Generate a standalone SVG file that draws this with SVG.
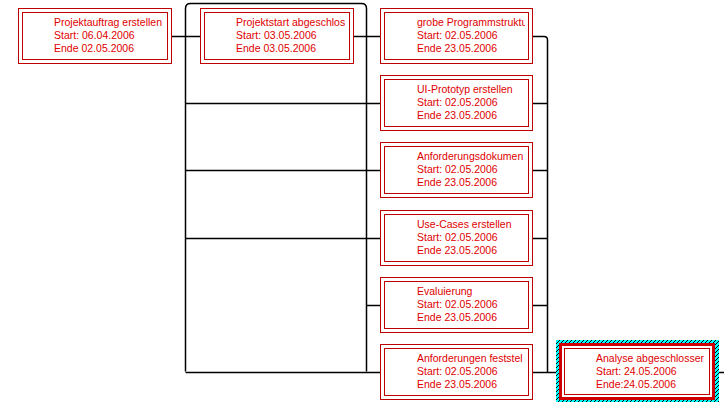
<svg xmlns="http://www.w3.org/2000/svg" width="724" height="411" viewBox="0 0 724 411">
<style>
.o{fill:#fff;stroke:#C00000;stroke-width:1}
.i{fill:none;stroke:#C00000;stroke-width:1}
.t{font-family:"Liberation Sans",Arial,sans-serif;font-size:10.5px;fill:#E00000}
.c{fill:none;stroke:#000;stroke-width:1.5}
</style>
<defs>
<pattern id="hatch" patternUnits="userSpaceOnUse" width="4" height="4">
<rect width="4" height="4" fill="#00FFFF"/>
<path d="M0,4 L4,0 M-1,1 L1,-1 M3,5 L5,3" stroke="#000" stroke-width="1"/>
</pattern>
<clipPath id="c1"><rect x="22" y="12" width="142" height="47"/></clipPath>
<clipPath id="c2"><rect x="204" y="12" width="141" height="47"/></clipPath>
<clipPath id="r1"><rect x="384" y="12" width="141" height="47"/></clipPath>
<clipPath id="r2"><rect x="384" y="79" width="141" height="47"/></clipPath>
<clipPath id="r3"><rect x="384" y="146" width="141" height="47"/></clipPath>
<clipPath id="r4"><rect x="384" y="214" width="141" height="47"/></clipPath>
<clipPath id="r5"><rect x="384" y="281" width="141" height="47"/></clipPath>
<clipPath id="r6"><rect x="384" y="348" width="141" height="47"/></clipPath>
<clipPath id="cf"><rect x="564" y="348" width="141" height="47"/></clipPath>
</defs>
<rect width="724" height="411" fill="#fff"/>
<g id="connectors">
<path class="c" d="M171,36.5 H200"/>
<path class="c" d="M185.5,371.5 V8.5 Q185.5,3.5 190.5,3.5 H361.5 Q366.5,3.5 366.5,8.5 V371.5"/>
<path class="c" d="M354,36.5 H380"/>
<path class="c" d="M185.5,103.5 H380"/>
<path class="c" d="M185.5,170.5 H380"/>
<path class="c" d="M185.5,238.5 H380"/>
<path class="c" d="M366.5,305.5 H380"/>
<path class="c" d="M185.5,372.5 H380"/>
<path class="c" d="M532,36.5 H544 Q547.5,36.5 547.5,40 V372.5"/>
<path class="c" d="M532,103.5 H547.5"/>
<path class="c" d="M532,170.5 H547.5"/>
<path class="c" d="M532,238.5 H547.5"/>
<path class="c" d="M532,305.5 H547.5"/>
<path class="c" d="M532,372.5 H556"/>
<path class="c" d="M715,372.5 H724"/>
</g>
<g id="n1">
<rect class="o" x="18.5" y="8.5" width="153" height="55"/>
<rect class="i" x="22.5" y="12.5" width="145" height="47"/>
<g clip-path="url(#c1)" class="t"><text x="54" y="26">Projektauftrag erstellen</text><text x="54" y="39">Start: 06.04.2006</text><text x="54" y="52">Ende 02.05.2006</text></g>
</g>
<g id="n2">
<rect class="o" x="200.5" y="8.5" width="153" height="55"/>
<rect class="i" x="204.5" y="12.5" width="145" height="47"/>
<g clip-path="url(#c2)" class="t"><text x="236" y="26">Projektstart abgeschlos</text><text x="236" y="39">Start: 03.05.2006</text><text x="236" y="52">Ende 03.05.2006</text></g>
</g>
<g id="r1n">
<rect class="o" x="380.5" y="8.5" width="152" height="55"/>
<rect class="i" x="384.5" y="12.5" width="144" height="47"/>
<g clip-path="url(#r1)" class="t"><text x="417" y="26">grobe Programmstruktu</text><text x="417" y="39">Start: 02.05.2006</text><text x="417" y="52">Ende 23.05.2006</text></g>
</g>
<g id="r2n">
<rect class="o" x="380.5" y="75.5" width="152" height="55"/>
<rect class="i" x="384.5" y="79.5" width="144" height="47"/>
<g clip-path="url(#r2)" class="t"><text x="417" y="93">UI-Prototyp erstellen</text><text x="417" y="106">Start: 02.05.2006</text><text x="417" y="119">Ende 23.05.2006</text></g>
</g>
<g id="r3n">
<rect class="o" x="380.5" y="142.5" width="152" height="55"/>
<rect class="i" x="384.5" y="146.5" width="144" height="47"/>
<g clip-path="url(#r3)" class="t"><text x="417" y="160">Anforderungsdokumen</text><text x="417" y="173">Start: 02.05.2006</text><text x="417" y="186">Ende 23.05.2006</text></g>
</g>
<g id="r4n">
<rect class="o" x="380.5" y="210.5" width="152" height="55"/>
<rect class="i" x="384.5" y="214.5" width="144" height="47"/>
<g clip-path="url(#r4)" class="t"><text x="417" y="228">Use-Cases erstellen</text><text x="417" y="241">Start: 02.05.2006</text><text x="417" y="254">Ende 23.05.2006</text></g>
</g>
<g id="r5n">
<rect class="o" x="380.5" y="277.5" width="152" height="55"/>
<rect class="i" x="384.5" y="281.5" width="144" height="47"/>
<g clip-path="url(#r5)" class="t"><text x="417" y="295">Evaluierung</text><text x="417" y="308">Start: 02.05.2006</text><text x="417" y="321">Ende 23.05.2006</text></g>
</g>
<g id="r6n">
<rect class="o" x="380.5" y="344.5" width="152" height="55"/>
<rect class="i" x="384.5" y="348.5" width="144" height="47"/>
<g clip-path="url(#r6)" class="t"><text x="417" y="362">Anforderungen feststel</text><text x="417" y="375">Start: 02.05.2006</text><text x="417" y="388">Ende 23.05.2006</text></g>
</g>
<g id="final">
<rect x="556" y="340" width="163" height="62" fill="url(#hatch)"/>
<rect x="560.5" y="344.5" width="153" height="54" fill="#fff" stroke="#D00000" stroke-width="3"/>
<rect class="i" x="564.5" y="348.5" width="145" height="46"/>
<g clip-path="url(#cf)" class="t"><text x="596" y="362">Analyse abgeschlosser</text><text x="596" y="375">Start: 24.05.2006</text><text x="596" y="388">Ende:24.05.2006</text></g>
</g>
</svg>
